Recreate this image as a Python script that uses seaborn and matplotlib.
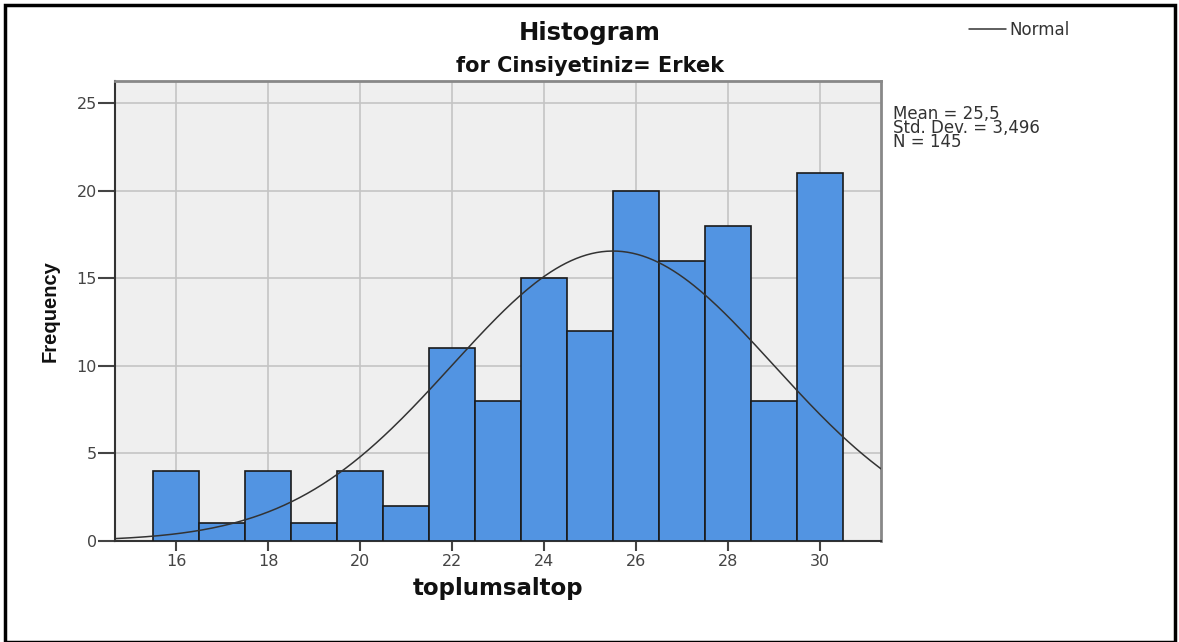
import numpy as np
import pandas as pd
import matplotlib
matplotlib.use('Agg')
import matplotlib.pyplot as plt
import seaborn as sns

# histogram values
scores = [16, 17, 18, 19, 20, 21, 22, 23, 24, 25, 26, 27, 28, 29, 30]
freqs = [4, 1, 4, 1, 4, 2, 11, 8, 15, 12, 20, 16, 18, 8, 21]
mean_val = 25.5
std_val = 3.496
n_total = 145
x_ticks = [16, 18, 20, 22, 24, 26, 28, 30]
y_ticks = [0, 5, 10, 15, 20, 25]

df = pd.DataFrame({'toplumsaltop': scores, 'count': freqs})

sns.set_style('white')
plt.rcParams['font.family'] = ['DejaVu Sans']

fig = plt.figure(figsize=(11.79, 6.42), dpi=100)
ax = fig.add_axes([115 / 1179, 1 - 541 / 642, 766 / 1179, 460 / 642])
ax.set_facecolor('#efefef')

sns.histplot(data=df, x='toplumsaltop', weights='count', binwidth=1, binrange=(15.5, 30.5),
             ax=ax, color='#5294e2', alpha=1, edgecolor='#1a1a1a', linewidth=1.2, zorder=3)

# normal curve (scaled to bin width 1)
xs = np.linspace(14.67, 31.33, 300)
ys = n_total / (std_val * np.sqrt(2 * np.pi)) * np.exp(-0.5 * ((xs - mean_val) / std_val) ** 2)
ax.plot(xs, ys, color='#333333', linewidth=1.1, zorder=4, label='Normal')

ax.set_xlim(14.67, 31.33)
ax.set_ylim(0, 26.25)
ax.set_xticks(x_ticks)
ax.set_yticks(y_ticks)
ax.grid(True, color='#c4c4c4', linewidth=1.2, zorder=0)
ax.set_axisbelow(True)
ax.tick_params(axis='x', bottom=True, direction='out', length=7, width=1.5,
               colors='#444444', labelsize=11.5, labelcolor='#444444', pad=2)
ax.tick_params(axis='y', left=True, direction='out', length=12, width=1.5,
               colors='#444444', labelsize=11.5, labelcolor='#444444', pad=1)

for side in ['left', 'bottom']:
    ax.spines[side].set_color('#333333')
    ax.spines[side].set_linewidth(1.5)
for side in ['top', 'right']:
    ax.spines[side].set_color('#888888')
    ax.spines[side].set_linewidth(2)

ax.set_xlabel('toplumsaltop', fontsize=16.5, fontweight='bold', labelpad=6, color='#111111')
ax.set_ylabel('Frequency', fontsize=14.5, fontweight='bold', labelpad=12, color='#111111',
              family=['Liberation Sans', 'DejaVu Sans'])

fig.text(590 / 1179, 1 - 33 / 642, 'Histogram', ha='center', va='center',
         fontsize=17.5, fontweight='bold', color='#111111')
fig.text(590 / 1179, 1 - 66 / 642, 'for Cinsiyetiniz= Erkek', ha='center', va='center',
         fontsize=15, fontweight='bold', color='#111111')

stats_text = '\n'.join(['Mean = ' + str(mean_val).replace('.', ','),
                        'Std. Dev. = ' + str(std_val).replace('.', ','),
                        'N = %d' % n_total])
fig.text(893 / 1179, 1 - 105 / 642, stats_text, ha='left', va='top',
         fontsize=12, color='#333333', linespacing=0.72)

fig.legend(handles=ax.get_lines(), labels=['Normal'], loc='center left',
           bbox_to_anchor=(954 / 1179, 1 - 30 / 642), frameon=False, fontsize=12,
           handlelength=2.2, handletextpad=0.2, labelcolor='#333333')

# outer frame
fig.patches.append(plt.Rectangle((5 / 1179, 0), 1170 / 1179, 637 / 642, transform=fig.transFigure,
                                 fill=False, edgecolor='black', linewidth=2.5))

fig.savefig('out.png', dpi=100)
